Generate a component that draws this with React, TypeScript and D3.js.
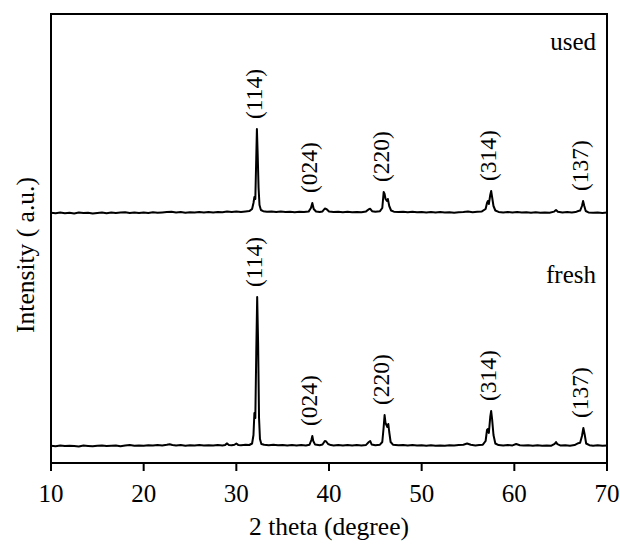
import React from "react";
import * as d3 from "d3";

// 2θ (degree), intensity (a.u.) — fresh sample
const freshData: [number, number][] = [
  [10.0, 17.2], [10.5, 16.8], [11.0, 17.5], [11.5, 16.9], [12.0, 17.3], [12.5, 17.0], [13.0, 16.6],
  [13.5, 17.4], [14.0, 17.1], [14.5, 16.7], [15.0, 17.3], [15.5, 17.6], [16.0, 16.9], [16.5, 17.2],
  [17.0, 17.5], [17.5, 16.8], [18.0, 17.4], [18.5, 17.9], [19.0, 17.2], [19.5, 17.6], [20.0, 17.3],
  [20.5, 17.8], [21.0, 17.4], [21.5, 17.9], [22.0, 17.5], [22.5, 18.2], [22.8, 18.8], [23.1, 18.0],
  [23.5, 17.6], [24.0, 17.9], [24.5, 17.3], [25.0, 17.8], [25.5, 17.4], [26.0, 17.9], [26.5, 17.5],
  [27.0, 17.8], [27.5, 17.4], [28.0, 18.0], [28.5, 17.6], [28.8, 18.1], [29.0, 19.6], [29.2, 18.0],
  [29.5, 17.7], [29.8, 18.2], [30.0, 19.5], [30.2, 18.1], [30.5, 17.8], [31.0, 18.2], [31.4, 18.0],
  [31.7, 19.5], [31.85, 28], [31.95, 50], [32.05, 45], [32.15, 110], [32.25, 166], [32.35, 120],
  [32.45, 45], [32.55, 24], [32.7, 19], [33.0, 18.2], [33.5, 17.8], [34.0, 18.3], [34.5, 17.7],
  [35.0, 18.1], [35.5, 17.6], [36.0, 18.0], [36.5, 17.5], [37.0, 18.0], [37.5, 17.6], [37.9, 18.3],
  [38.1, 23], [38.2, 27], [38.3, 22], [38.5, 18.4], [39.0, 17.8], [39.3, 18.5], [39.55, 22],
  [39.7, 21.5], [39.9, 19], [40.2, 17.9], [40.5, 17.6], [41.0, 18.1], [41.5, 17.5], [42.0, 18.0],
  [42.5, 17.6], [43.0, 17.9], [43.5, 17.5], [44.0, 18.1], [44.3, 21], [44.45, 22], [44.6, 18.5],
  [45.0, 17.8], [45.5, 18.3], [45.75, 21], [45.9, 36], [46.0, 48], [46.1, 40], [46.3, 36],
  [46.4, 39], [46.5, 31], [46.65, 21], [46.9, 18.3], [47.5, 17.8], [48.0, 18.1], [48.5, 17.6],
  [49.0, 17.9], [49.5, 17.4], [50.0, 17.8], [50.5, 17.3], [51.0, 17.7], [51.5, 17.2], [52.0, 17.6],
  [52.5, 17.3], [53.0, 17.8], [53.5, 17.4], [54.0, 17.9], [54.5, 18.3], [54.9, 19.5], [55.3, 18.2],
  [55.8, 17.6], [56.2, 18.0], [56.6, 18.3], [56.9, 22], [57.05, 33], [57.15, 34], [57.25, 30],
  [57.4, 46], [57.5, 52], [57.6, 44], [57.75, 28], [57.95, 19.5], [58.3, 17.9], [58.8, 17.5],
  [59.3, 17.9], [59.8, 17.6], [60.2, 19.0], [60.6, 17.8], [61.0, 17.4], [61.5, 17.8], [62.0, 17.3],
  [62.5, 17.7], [63.0, 17.2], [63.5, 17.6], [64.0, 17.3], [64.35, 19.2], [64.5, 21], [64.65, 18.8],
  [65.0, 17.4], [65.5, 17.8], [66.0, 17.3], [66.5, 17.9], [66.9, 19.8], [67.1, 20.2], [67.3, 27],
  [67.45, 35], [67.6, 28], [67.75, 19.5], [68.1, 17.8], [68.5, 17.3], [69.0, 17.7], [69.5, 17.2],
  [70.0, 17.5],
];

// 2θ (degree), intensity (a.u.) — used sample
const usedData: [number, number][] = [
  [10.0, 250.3], [10.5, 249.8], [11.0, 250.4], [11.5, 249.7], [12.0, 250.2], [12.5, 249.6],
  [13.0, 250.5], [13.5, 249.9], [14.0, 250.3], [14.5, 249.5], [15.0, 250.1], [15.5, 250.6],
  [16.0, 249.8], [16.5, 250.4], [17.0, 249.9], [17.5, 250.5], [18.0, 250.8], [18.5, 250.1],
  [19.0, 250.6], [19.5, 250.0], [20.0, 250.5], [20.5, 250.1], [21.0, 250.7], [21.5, 250.2],
  [22.0, 250.6], [22.5, 250.9], [23.0, 251.3], [23.5, 250.6], [24.0, 250.9], [24.5, 250.3],
  [25.0, 250.8], [25.5, 250.4], [26.0, 250.9], [26.5, 250.5], [27.0, 251.0], [27.5, 250.6],
  [28.0, 251.0], [28.5, 250.7], [29.0, 251.4], [29.5, 250.9], [30.0, 251.6], [30.5, 251.1],
  [31.0, 251.5], [31.4, 251.9], [31.7, 254], [31.85, 260], [31.95, 266], [32.05, 264],
  [32.15, 305], [32.22, 334], [32.3, 310], [32.4, 275], [32.5, 258], [32.65, 253], [32.9, 251.8],
  [33.3, 251.2], [33.8, 251.6], [34.3, 251.0], [34.8, 251.4], [35.3, 250.9], [35.8, 251.3],
  [36.3, 250.8], [36.8, 251.2], [37.3, 250.9], [37.8, 251.4], [38.05, 255], [38.2, 260],
  [38.35, 254], [38.6, 251.5], [39.0, 251.0], [39.3, 251.6], [39.55, 254.5], [39.75, 253.8],
  [40.0, 251.5], [40.5, 250.9], [41.0, 251.3], [41.5, 250.8], [42.0, 251.2], [42.5, 250.7],
  [43.0, 251.1], [43.5, 250.8], [44.0, 251.6], [44.3, 253.8], [44.45, 254.2], [44.65, 251.8],
  [45.0, 251.2], [45.5, 251.8], [45.75, 255], [45.9, 271], [46.0, 269], [46.1, 264],
  [46.25, 262], [46.35, 264], [46.5, 257], [46.7, 252.5], [47.0, 251.3], [47.5, 250.9],
  [48.0, 251.3], [48.5, 250.8], [49.0, 251.2], [49.5, 250.7], [50.0, 251.1], [50.5, 250.6],
  [51.0, 251.0], [51.5, 250.5], [52.0, 250.9], [52.5, 250.4], [53.0, 250.8], [53.5, 250.3],
  [54.0, 250.7], [54.5, 250.9], [55.0, 251.4], [55.5, 250.8], [56.0, 251.2], [56.5, 251.6],
  [56.9, 254], [57.05, 260], [57.15, 262], [57.25, 259], [57.4, 268], [57.5, 272], [57.6, 266],
  [57.75, 257], [57.95, 252.5], [58.3, 251.1], [58.8, 250.6], [59.3, 251.0], [59.8, 250.5],
  [60.3, 250.9], [60.8, 250.4], [61.3, 250.8], [61.8, 250.3], [62.3, 250.7], [62.8, 250.2],
  [63.3, 250.6], [63.8, 250.3], [64.3, 251.4], [64.5, 253], [64.7, 251.3], [65.2, 250.6],
  [65.7, 250.9], [66.2, 250.4], [66.6, 250.9], [66.9, 252], [67.1, 252.4], [67.3, 257],
  [67.42, 262], [67.55, 257], [67.7, 252], [68.0, 250.6], [68.5, 250.2], [69.0, 250.6],
  [69.5, 250.1], [70.0, 250.4],
];

const peakLabels = ["(114)", "(024)", "(220)", "(314)", "(137)"];
const peakPositions = [32.2, 38.2, 45.95, 57.5, 67.4];
const xTicks = [10, 20, 30, 40, 50, 60, 70];
const sampleNames = ["used", "fresh"];

const W = 620;
const H = 544;
const M = { left: 51, right: 607, top: 14, bottom: 463 };
const FONT = "'Liberation Serif', 'Times New Roman', serif";

export default function App() {
  const x = d3.scaleLinear().domain([10, 70]).range([M.left, M.right]);
  const y = d3.scaleLinear().domain([0, 449]).range([M.bottom, M.top]);
  const line = d3
    .line<[number, number]>()
    .x((d) => x(d[0]))
    .y((d) => y(d[1]))
    .curve(d3.curveLinear);

  const series = [usedData, freshData];
  const nameY = [50, 283];

  const peakTop = (data: [number, number][], pos: number) => {
    const win = data.filter((d) => Math.abs(d[0] - pos) <= 0.35);
    return d3.max(win, (d) => d[1]) ?? 0;
  };

  return (
    <svg
      width={W}
      height={H}
      style={{ position: "absolute", left: 0, top: 0, background: "#fff" }}
      fontFamily={FONT}
    >
      <rect x={0} y={0} width={W} height={H} fill="#fff" />
      {series.map((data, si) => (
        <path
          key={si}
          d={line(data) ?? ""}
          fill="none"
          stroke="#000"
          strokeWidth={2}
          strokeLinejoin="round"
        />
      ))}
      {series.map((data, si) =>
        peakLabels.map((lab, i) => {
          const px = x(peakPositions[i]);
          const py = y(peakTop(data, peakPositions[i])) - 10;
          return (
            <text
              key={`${si}-${i}`}
              transform={`translate(${px + 5},${py}) rotate(-90)`}
              fontSize={23.5}
              textAnchor="start"
              fill="#000"
            >
              {lab}
            </text>
          );
        })
      )}
      {sampleNames.map((n, i) => (
        <text key={n} x={596} y={nameY[i]} fontSize={25} textAnchor="end" fill="#000">
          {n}
        </text>
      ))}
      <rect
        x={M.left}
        y={M.top}
        width={M.right - M.left}
        height={M.bottom - M.top}
        fill="none"
        stroke="#000"
        strokeWidth={2}
      />
      {xTicks.map((t) => (
        <g key={t}>
          <line x1={x(t)} x2={x(t)} y1={M.bottom} y2={M.bottom + 8} stroke="#000" strokeWidth={2} />
          <text x={x(t)} y={502} fontSize={25} textAnchor="middle" fill="#000">
            {t}
          </text>
        </g>
      ))}
      <text x={(M.left + M.right) / 2} y={535} fontSize={25.5} textAnchor="middle" fill="#000">
        2 theta (degree)
      </text>
      <text
        transform={`translate(34,${255}) rotate(-90)`}
        fontSize={25.5}
        textAnchor="middle"
        fill="#000"
      >
        Intensity ( a.u.)
      </text>
    </svg>
  );
}
